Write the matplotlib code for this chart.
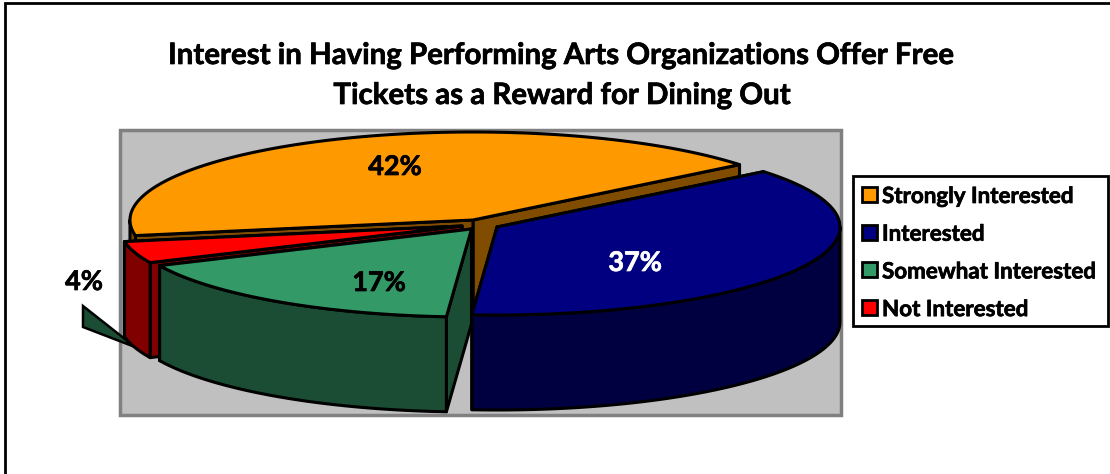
from matplotlib import pyplot as plt
from matplotlib.patches import Polygon, Rectangle
import matplotlib.patheffects as pe
import numpy as np

TITLE_LINES = ["Interest in Having Performing Arts Organizations Offer Free",
               "Tickets as a Reward for Dining Out"]
CATEGORIES = ["Strongly Interested", "Interested", "Somewhat Interested", "Not Interested"]
SHARES = [42, 37, 17, 4]
COLORS = ["#ff9900", "#000080", "#339966", "#ff0000"]
SIDE_COLORS = ["#7f4c00", "#000040", "#1a4d33", "#800000"]
LABEL_COLORS = ["#000000", "#ffffff", "#000000", "#000000"]

# pie geometry in picture pixels
RX = 343
RY = 88
DEPTH = 95
START_ANGLE = 39
CENTERS = [(473, 220), (497, 227), (471.5, 229), (462, 226)]
LABEL_POS = [(395, 167), (635, 263), (379, 283), (84, 282)]

FONT = "Lato"
BOLDER = [pe.withStroke(linewidth=0.5, foreground="black")]
BOLDER_WHITE = [pe.withStroke(linewidth=0.5, foreground="white")]


def rim(center, a1, a2):
    t = np.radians(np.linspace(a1, a2, 200))
    return np.column_stack([center[0] + RX * np.cos(t), center[1] - RY * np.sin(t)])


def face(ax, pts, color, z):
    ax.add_patch(Polygon(pts, closed=True, facecolor=color, edgecolor="black",
                         linewidth=2.2, joinstyle="round", zorder=z))


def cut(ax, center, angle, color, z):
    p = rim(center, angle, angle)[0]
    c = np.array(center, dtype=float)
    face(ax, [c, p, p + (0, DEPTH), c + (0, DEPTH)], color, z)


def draw_slice(ax, i, a1, a2, z):
    # a1 > a2, going clockwise
    c = CENTERS[i]
    cut(ax, c, a2, SIDE_COLORS[i], z)
    cut(ax, c, a1, SIDE_COLORS[i], z)
    # outer wall, only the part on the front of the ellipse shows
    if a1 > 180:
        wall = rim(c, a1, 180)
    elif a1 > 0:
        wall = rim(c, 0, a2)
    else:
        wall = rim(c, a1, a2)
    face(ax, np.vstack([wall, wall[::-1] + (0, DEPTH)]), SIDE_COLORS[i], z)
    face(ax, np.vstack([[c], rim(c, a1, a2)]), COLORS[i], z)


def main():
    fig = plt.figure(figsize=(11.1, 4.74), dpi=100)
    ax = fig.add_axes([0, 0, 1, 1])
    ax.set_xlim(0, 1110)
    ax.set_ylim(474, 0)
    ax.axis("off")

    # chart frame, only top and left are inside the picture
    ax.plot([5, 5, 1110], [474, 3, 3], color="black", linewidth=2, solid_joinstyle="miter", zorder=0)
    # plot area
    ax.add_patch(Rectangle((120, 130), 721, 285, facecolor="#c0c0c0", edgecolor="#808080", linewidth=2.5, zorder=1))

    # slice angles, clockwise from the start angle
    sweep = [s * 3.6 for s in SHARES]
    ends = START_ANGLE - np.cumsum(sweep[1:])
    draw_slice(ax, 0, START_ANGLE + sweep[0], START_ANGLE, 2)
    draw_slice(ax, 3, ends[1], ends[2], 3)
    draw_slice(ax, 2, ends[0], ends[1], 4)
    draw_slice(ax, 1, START_ANGLE, ends[0], 5)

    # leader artefact next to the 4% label
    ax.add_patch(Polygon([(83, 306), (83, 327), (135, 347)], closed=True, facecolor=SIDE_COLORS[2],
                         edgecolor="black", linewidth=1.8, zorder=2.5))

    for i, pos in enumerate(LABEL_POS):
        fx = BOLDER_WHITE if LABEL_COLORS[i] == "#ffffff" else BOLDER
        ax.text(pos[0], pos[1], "%d%%" % SHARES[i], color=LABEL_COLORS[i], fontsize=19.5, fontweight="bold",
                family=FONT, ha="center", va="center", zorder=8, path_effects=fx)

    ax.text(559, 56, TITLE_LINES[0], fontsize=21.2, fontweight="bold", family=FONT, ha="center", va="center",
            zorder=8, path_effects=BOLDER)
    ax.text(561, 96, TITLE_LINES[1], fontsize=21.2, fontweight="bold", family=FONT, ha="center", va="center",
            zorder=8, path_effects=BOLDER)

    # legend
    ax.add_patch(Rectangle((853, 176), 255, 150, facecolor="white", edgecolor="black", linewidth=2, zorder=6))
    for i, name in enumerate(CATEGORIES):
        y = 194.5 + i * 37.7
        ax.add_patch(Rectangle((861.5, y - 7.5), 15, 15, facecolor=COLORS[i], edgecolor="black", linewidth=2, zorder=7))
        ax.text(882, y + 2, name, fontsize=16.1, fontweight="bold", family=FONT, ha="left", va="center", zorder=8,
                path_effects=BOLDER)

    fig.savefig("out.png", dpi=100)


if __name__ == '__main__':
    main()
